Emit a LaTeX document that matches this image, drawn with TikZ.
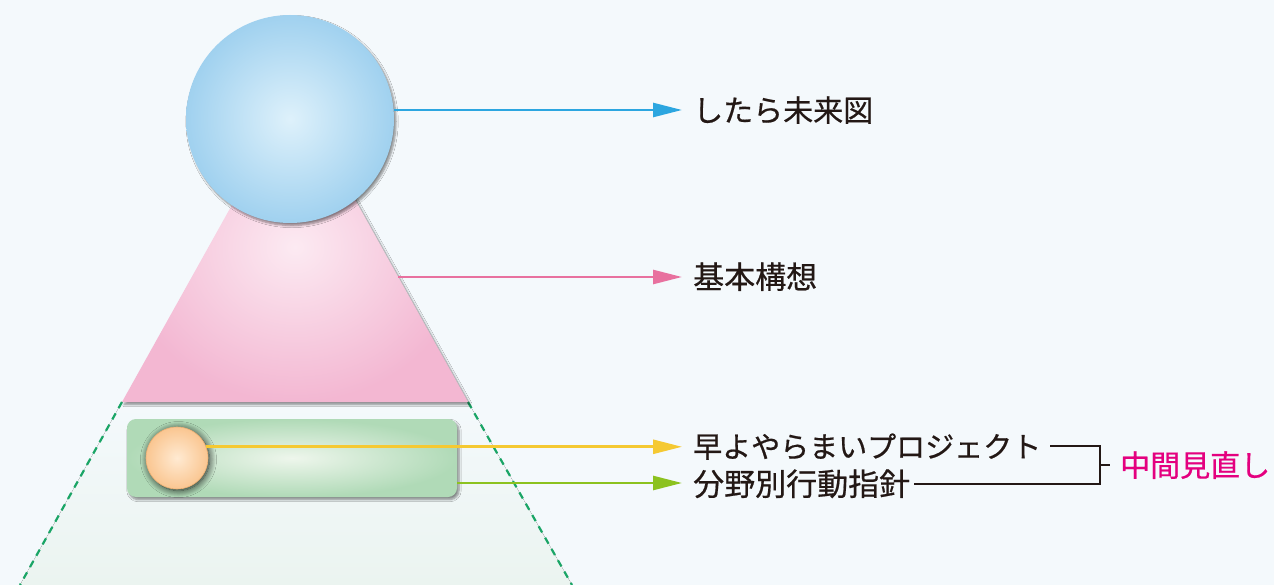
\documentclass[tikz,border=0pt]{standalone}
\usepackage{fontspec}
\setmainfont[FakeBold=0.6]{Noto Sans CJK JP}
\usetikzlibrary{arrows.meta,shadows.blur,calc}
\definecolor{bg}{HTML}{F4F9FC}
\definecolor{bgb}{HTML}{EBF4F0}
\definecolor{txt}{HTML}{231815}
\definecolor{cblue}{HTML}{2CA6E0}
\definecolor{cpink}{HTML}{E8719F}
\definecolor{cyellow}{HTML}{F5C932}
\definecolor{cgreen}{HTML}{8CC21F}
\definecolor{dgreen}{HTML}{1AA566}
\definecolor{magenta}{HTML}{E4007F}
\tikzset{
  shd/.style={blur shadow={shadow xshift=2pt,shadow yshift=-2.5pt,shadow blur steps=6,shadow opacity=45}},
  conn/.style={line width=2.6pt,-{Triangle[length=29pt,width=14pt]},shorten >=11pt},
  label/.style={anchor=west,inner sep=0pt,text height=23pt,text depth=0pt,text=txt},
  brk/.style={line width=1.9pt,draw=txt},
  dsh/.style={dgreen,line width=2.2pt,dash pattern=on 7pt off 6pt},
}
\begin{document}
\begin{tikzpicture}[x=1pt,y=-1pt]
\useasboundingbox (0,0) rectangle (1274,585);
\fill[bg] (0,0) rectangle (1274,585);
% faint projected area
\fill[top color=bg,bottom color=bgb] (122,402) -- (468,402) -- (572,585) -- (20,585) -- cycle;
\draw[dsh] (122,402) -- (20,585);
\draw[dsh] (468,402) -- (572,585);
% triangle
\path[shd,inner color={rgb,255:red,252;green,234;blue,242},outer color={rgb,255:red,243;green,183;blue,210}] (122,402) -- (295,92) -- (468,402) -- cycle;
\coordinate (trir) at (398,277);
% circle
\node[shd,circle,minimum size=208pt,inner sep=0pt,inner color={rgb,255:red,222;green,241;blue,251},outer color={rgb,255:red,160;green,209;blue,239}] (top) at (290,119) {};
% green box
\node[shd,rectangle,rounded corners=9pt,minimum width=330pt,minimum height=78pt,inner color={rgb,255:red,238;green,246;blue,236},outer color={rgb,255:red,176;green,218;blue,183}] (box) at (292,458) {};
\coordinate (boxr) at (457,483);
% orange orb
\node[blur shadow={shadow xshift=1.5pt,shadow yshift=-1.5pt,shadow blur steps=10,shadow opacity=85,shadow blur radius=7pt},circle,minimum size=62pt,inner sep=0pt,draw={rgb,255:red,235;green,175;blue,115},line width=0.6pt,inner color={rgb,255:red,255;green,234;blue,210},outer color={rgb,255:red,250;green,198;blue,145}] (orb) at (177,458) {};
% labels
\node[label,font=\fontsize{30pt}{30pt}\selectfont] (t1) at (693,110) {したら未来図};
\node[label,font=\fontsize{31pt}{31pt}\selectfont] (t2) at (693,277) {基本構想};
\node[label,font=\fontsize{29pt}{29pt}\selectfont] (t3) at (693,446) {早よやらまいプロジェクト};
\node[label,font=\fontsize{31pt}{31pt}\selectfont] (t4) at (693,484) {分野別行動指針};
\coordinate (bk) at (1100,465);
\node[anchor=west,inner sep=0pt,text height=23pt,text depth=0pt,text=magenta,font=\fontsize{30pt}{30pt}\selectfont] (mid) at (1120,465) {中間見直し};
% connectors
\draw[conn,cblue] (top.east |- t1.west) -- (t1.west);
\draw[conn,cpink] (trir) -- (t2.west);
\draw[conn,cyellow] (orb.21) -- (orb.21 -| t3.west);
\draw[conn,cgreen] (boxr) -- (boxr -| t4.west);
% bracket
\draw[brk] ([xshift=9pt]t3.east) -| (bk) |- ([xshift=4pt]t4.east);
\draw[brk] (bk) -- ++(10,0);
\end{tikzpicture}
\end{document}
